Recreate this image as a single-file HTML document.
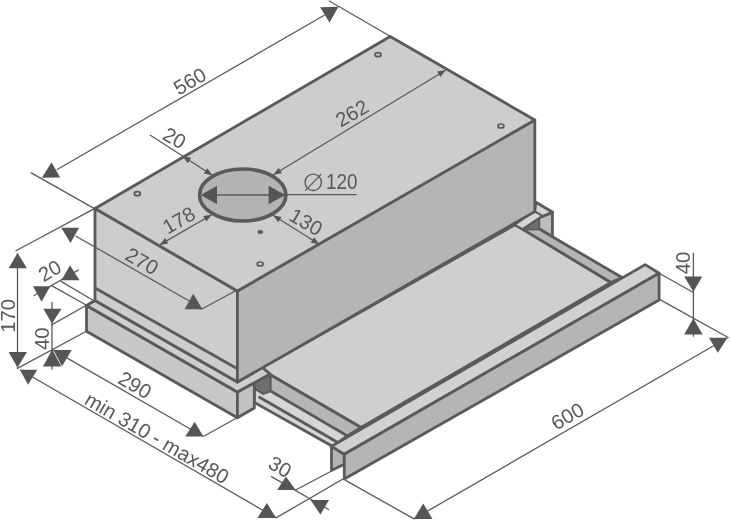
<!DOCTYPE html>
<html><head><meta charset="utf-8"><style>
html,body{margin:0;padding:0;background:#fff;}
svg{display:block;}
.t{filter:grayscale(1);}
text{font-family:"Liberation Sans",sans-serif;}
</style></head><body>
<svg class="t" width="730" height="521" viewBox="0 0 730 521">
<polygon points="262.5,367.6 514.8,224.8 522.5,229.1 611.0,282.5 361.0,427.5 262.5,370.3" fill="#cfcfcf" stroke="#5a5a5a" stroke-width="2.8" stroke-linejoin="round" />
<polygon points="535.9,202.2 552.7,212.3 541.7,217.1 534.5,211.3" fill="#d6d6d6" stroke="#5a5a5a" stroke-width="2.8" stroke-linejoin="round" />
<polygon points="538.8,218.0 552.4,212.5 552.4,236.8 538.8,228.6" fill="#bcbcbc" stroke="#5a5a5a" stroke-width="2.8" stroke-linejoin="round" />
<polygon points="522.5,229.1 538.8,228.6 552.4,236.8 622.0,277.5 611.0,282.5" fill="#b6b6b6" stroke="#5a5a5a" stroke-width="2.8" stroke-linejoin="round" />
<polygon points="526.0,228.5 539.0,218.3 539.0,229.2 531.0,229.8" fill="#6e6e6e" stroke="#5a5a5a" stroke-width="1.0" stroke-linejoin="round" />
<polygon points="514.8,224.8 534.5,211.3 542.5,215.8 522.5,229.1" fill="#d6d6d6" stroke="#5a5a5a" stroke-width="2.0" stroke-linejoin="round" />
<polygon points="270.2,374.7 361.0,427.5 347.2,435.9 270.2,390.9" fill="#b6b6b6" stroke="#5a5a5a" stroke-width="2.8" stroke-linejoin="round" />
<polygon points="254.3,388.0 263.4,393.5 270.2,390.9 347.2,435.9 332.8,446.5 254.3,402.4" fill="#d6d6d6" stroke="#5a5a5a" stroke-width="2.8" stroke-linejoin="round" />
<line x1="258.6" y1="396.7" x2="337.0" y2="442.0" stroke="#5a5a5a" stroke-width="2.8" stroke-linecap="butt"/>
<polygon points="254.0,383.5 270.2,374.1 270.2,390.9 263.4,393.3 254.3,388.0" fill="#6e6e6e" stroke="#5a5a5a" stroke-width="1.2" stroke-linejoin="round" />
<polygon points="86.5,305.5 237.4,392.0 237.4,417.8 86.5,331.2" fill="#c8c8c8" stroke="#5a5a5a" stroke-width="2.8" stroke-linejoin="round" />
<polygon points="237.4,392.0 254.3,382.8 254.3,408.0 237.4,417.8" fill="#c2c2c2" stroke="#5a5a5a" stroke-width="2.8" stroke-linejoin="round" />
<polygon points="86.5,305.5 95.0,300.5 237.4,382.0 262.5,367.6 270.2,374.1 254.3,382.8 237.4,392.0" fill="#cecece" stroke="#5a5a5a" stroke-width="2.8" stroke-linejoin="round" />
<polygon points="95.0,208.5 237.4,291.0 237.4,382.0 95.0,300.5" fill="#cdcdcd" stroke="#5a5a5a" stroke-width="2.8" stroke-linejoin="round" />
<polygon points="237.4,291.0 534.8,120.0 534.8,211.6 237.4,382.0" fill="#b5b5b5" stroke="#5a5a5a" stroke-width="2.8" stroke-linejoin="round" />
<polygon points="95.0,208.5 390.2,36.5 534.8,120.0 237.4,291.0" fill="#cdcdcd" stroke="#5a5a5a" stroke-width="2.8" stroke-linejoin="round" />
<line x1="95.0" y1="288.0" x2="237.4" y2="368.8" stroke="#5a5a5a" stroke-width="2.8" stroke-linecap="butt"/>
<polygon points="331.5,446.4 344.3,454.2 344.3,464.2 331.5,470.3" fill="#b5b5b5" stroke="#5a5a5a" stroke-width="2.8" stroke-linejoin="round" />
<polygon points="331.5,446.4 645.2,264.6 659.1,273.2 344.3,454.2" fill="#d1d1d1" stroke="#5a5a5a" stroke-width="2.8" stroke-linejoin="round" />
<polygon points="344.3,454.2 659.1,273.2 659.1,300.0 344.3,479.0" fill="#b5b5b5" stroke="#5a5a5a" stroke-width="2.8" stroke-linejoin="round" />
<ellipse cx="242.7" cy="195" rx="43.2" ry="26.0" fill="#b3b3b3" stroke="#5a5a5a" stroke-width="3.6"/>
<line x1="204.0" y1="195.0" x2="283.0" y2="195.0" stroke="#5a5a5a" stroke-width="1.6" stroke-linecap="butt"/>
<polygon points="200.8,195.0 217.0,185.7 217.0,204.3" fill="#555555"/>
<polygon points="285.3,195.0 268.6,185.7 268.6,204.3" fill="#555555"/>
<line x1="286.0" y1="194.6" x2="356.6" y2="194.6" stroke="#5a5a5a" stroke-width="1.2" stroke-linecap="butt"/>
<circle cx="313.2" cy="182.3" r="8.2" fill="none" stroke="#585858" stroke-width="1.3"/>
<line x1="305.3" y1="190.6" x2="321.3" y2="174.1" stroke="#585858" stroke-width="1.2" stroke-linecap="butt"/>
<text x="341.8" y="182.2" transform="rotate(0 341.8 182.2)" font-size="21.5" fill="#585858" text-anchor="middle" dominant-baseline="central" textLength="31.5" lengthAdjust="spacingAndGlyphs">120</text>
<ellipse cx="137.3" cy="193.7" rx="3.0" ry="2.0" fill="none" stroke="#5a5a5a" stroke-width="1.7"/>
<ellipse cx="378" cy="54.7" rx="3.0" ry="2.0" fill="none" stroke="#5a5a5a" stroke-width="1.7"/>
<ellipse cx="500.9" cy="126" rx="3.0" ry="2.0" fill="none" stroke="#5a5a5a" stroke-width="1.7"/>
<ellipse cx="260.2" cy="264" rx="3.0" ry="2.0" fill="none" stroke="#5a5a5a" stroke-width="1.7"/>
<ellipse cx="260.4" cy="232" rx="2.6" ry="1.8" fill="#5a5a5a" stroke="#5a5a5a" stroke-width="0.8"/>
<line x1="30.8" y1="172.6" x2="94.4" y2="208.6" stroke="#5a5a5a" stroke-width="1.3" stroke-linecap="butt"/>
<line x1="328.9" y1="0.8" x2="390.2" y2="36.2" stroke="#5a5a5a" stroke-width="1.3" stroke-linecap="butt"/>
<line x1="56.7" y1="169.7" x2="324.7" y2="15.0" stroke="#5a5a5a" stroke-width="1.3" stroke-linecap="butt"/>
<polygon points="51.5,162.2 41.9,177.8 60.2,177.5" fill="#555555"/>
<polygon points="320.1,7.2 338.5,6.8 329.5,22.6" fill="#555555"/>
<text x="189.8" y="81.2" transform="rotate(-30 189.8 81.2)" font-size="20.3" fill="#585858" text-anchor="middle" dominant-baseline="central">560</text>
<line x1="94.4" y1="208.6" x2="15.5" y2="251.0" stroke="#5a5a5a" stroke-width="1.3" stroke-linecap="butt"/>
<line x1="236.6" y1="290.3" x2="201.4" y2="309.3" stroke="#5a5a5a" stroke-width="1.3" stroke-linecap="butt"/>
<line x1="75.6" y1="236.0" x2="189.7" y2="301.2" stroke="#5a5a5a" stroke-width="1.3" stroke-linecap="butt"/>
<polygon points="61.2,227.8 79.1,227.8 70.5,243.0" fill="#555555"/>
<polygon points="193.2,293.7 184.6,309.3 202.5,309.3" fill="#555555"/>
<text x="142.0" y="261.2" transform="rotate(30 142.0 261.2)" font-size="20.3" fill="#585858" text-anchor="middle" dominant-baseline="central">270</text>
<line x1="17.5" y1="253.0" x2="17.5" y2="367.4" stroke="#5a5a5a" stroke-width="1.3" stroke-linecap="butt"/>
<polygon points="17.5,253.0 8.6,268.3 27.0,268.3" fill="#555555"/>
<polygon points="8.6,352.0 27.0,352.0 17.5,367.4" fill="#555555"/>
<text x="8.4" y="315.8" transform="rotate(-90 8.4 315.8)" font-size="20.3" fill="#585858" text-anchor="middle" dominant-baseline="central">170</text>
<line x1="16.9" y1="368.6" x2="86.5" y2="331.2" stroke="#5a5a5a" stroke-width="1.3" stroke-linecap="butt"/>
<line x1="33.8" y1="295.8" x2="78.7" y2="269.9" stroke="#5a5a5a" stroke-width="1.3" stroke-linecap="butt"/>
<polygon points="33.0,286.3 50.2,286.3 41.6,301.8" fill="#555555"/>
<polygon points="70.0,265.2 61.5,280.2 79.6,280.2" fill="#555555"/>
<line x1="60.6" y1="281.1" x2="94.3" y2="301.0" stroke="#5a5a5a" stroke-width="1.3" stroke-linecap="butt"/>
<line x1="51.1" y1="285.4" x2="86.5" y2="305.3" stroke="#5a5a5a" stroke-width="1.3" stroke-linecap="butt"/>
<text x="49.8" y="270.7" transform="rotate(-30 49.8 270.7)" font-size="20.3" fill="#585858" text-anchor="middle" dominant-baseline="central">20</text>
<line x1="52.0" y1="302.0" x2="52.0" y2="369.6" stroke="#5a5a5a" stroke-width="1.3" stroke-linecap="butt"/>
<polygon points="43.3,308.7 61.5,308.7 52.0,323.4" fill="#555555"/>
<polygon points="52.2,349.6 43.0,366.6 61.4,366.6" fill="#555555"/>
<line x1="51.1" y1="325.1" x2="86.5" y2="305.3" stroke="#5a5a5a" stroke-width="1.3" stroke-linecap="butt"/>
<text x="41.7" y="338.8" transform="rotate(-90 41.7 338.8)" font-size="20.3" fill="#585858" text-anchor="middle" dominant-baseline="central">40</text>
<polygon points="53.4,350.1 71.8,350.1 62.0,366.2" fill="#555555"/>
<line x1="53.4" y1="350.1" x2="203.3" y2="436.5" stroke="#5a5a5a" stroke-width="1.3" stroke-linecap="butt"/>
<polygon points="194.7,421.7 185.3,436.5 203.3,436.5" fill="#555555"/>
<line x1="203.3" y1="436.5" x2="237.1" y2="417.8" stroke="#5a5a5a" stroke-width="1.3" stroke-linecap="butt"/>
<text x="135.0" y="385.0" transform="rotate(30 135.0 385.0)" font-size="20.3" fill="#585858" text-anchor="middle" dominant-baseline="central">290</text>
<polygon points="20.0,369.7 37.3,369.7 28.0,384.7" fill="#555555"/>
<line x1="20.0" y1="369.7" x2="276.0" y2="517.9" stroke="#5a5a5a" stroke-width="1.3" stroke-linecap="butt"/>
<polygon points="266.9,503.0 257.5,517.9 276.0,517.9" fill="#555555"/>
<line x1="276.0" y1="517.9" x2="344.3" y2="478.3" stroke="#5a5a5a" stroke-width="1.3" stroke-linecap="butt"/>
<text x="157.0" y="438.0" transform="rotate(30 157.0 438.0)" font-size="20.3" fill="#585858" text-anchor="middle" dominant-baseline="central">min 310 - max480</text>
<line x1="271.0" y1="476.4" x2="329.0" y2="509.7" stroke="#5a5a5a" stroke-width="1.3" stroke-linecap="butt"/>
<polygon points="285.9,476.4 277.2,490.0 295.7,490.0" fill="#555555"/>
<polygon points="310.5,499.9 329.0,499.9 320.4,514.6" fill="#555555"/>
<line x1="295.7" y1="490.0" x2="344.3" y2="464.2" stroke="#5a5a5a" stroke-width="1.3" stroke-linecap="butt"/>
<text x="279.9" y="466.9" transform="rotate(30 279.9 466.9)" font-size="20.3" fill="#585858" text-anchor="middle" dominant-baseline="central">30</text>
<line x1="693.4" y1="252.7" x2="693.4" y2="336.7" stroke="#5a5a5a" stroke-width="1.3" stroke-linecap="butt"/>
<polygon points="684.2,276.4 702.2,276.4 693.4,291.8" fill="#555555"/>
<polygon points="693.4,318.3 684.2,334.4 702.6,334.4" fill="#555555"/>
<line x1="659.1" y1="273.2" x2="693.4" y2="292.5" stroke="#5a5a5a" stroke-width="1.3" stroke-linecap="butt"/>
<line x1="659.1" y1="299.1" x2="728.6" y2="337.8" stroke="#5a5a5a" stroke-width="1.3" stroke-linecap="butt"/>
<text x="682.6" y="263.0" transform="rotate(-90 682.6 263.0)" font-size="20.3" fill="#585858" text-anchor="middle" dominant-baseline="central">40</text>
<polygon points="709.0,337.8 727.5,337.8 717.8,352.8" fill="#555555"/>
<line x1="414.0" y1="518.9" x2="727.5" y2="337.8" stroke="#5a5a5a" stroke-width="1.3" stroke-linecap="butt"/>
<polygon points="423.2,503.4 414.0,518.9 432.5,518.9" fill="#555555"/>
<line x1="345.2" y1="480.1" x2="414.0" y2="518.9" stroke="#5a5a5a" stroke-width="1.3" stroke-linecap="butt"/>
<text x="567.5" y="416.2" transform="rotate(-30 567.5 416.2)" font-size="20.3" fill="#585858" text-anchor="middle" dominant-baseline="central">600</text>
<line x1="150.0" y1="135.0" x2="212.3" y2="175.2" stroke="#5a5a5a" stroke-width="1.3" stroke-linecap="butt"/>
<polygon points="182.7,156.2 191.2,157.8 187.7,163.2" fill="#555555"/>
<polygon points="212.3,175.2 203.8,173.6 207.3,168.2" fill="#555555"/>
<text x="174.5" y="138.0" transform="rotate(30 174.5 138.0)" font-size="20.3" fill="#585858" text-anchor="middle" dominant-baseline="central">20</text>
<line x1="273.4" y1="174.7" x2="445.6" y2="70.2" stroke="#5a5a5a" stroke-width="1.3" stroke-linecap="butt"/>
<polygon points="273.4,174.7 278.6,167.8 281.9,173.3" fill="#555555"/>
<polygon points="445.6,70.2 440.4,77.1 437.1,71.6" fill="#555555"/>
<text x="352.0" y="113.3" transform="rotate(-30 352.0 113.3)" font-size="20.3" fill="#585858" text-anchor="middle" dominant-baseline="central">262</text>
<line x1="159.7" y1="244.9" x2="211.7" y2="214.7" stroke="#5a5a5a" stroke-width="1.3" stroke-linecap="butt"/>
<polygon points="159.7,244.9 165.0,238.1 168.2,243.6" fill="#555555"/>
<polygon points="211.7,214.7 206.4,221.5 203.2,216.0" fill="#555555"/>
<text x="178.8" y="220.3" transform="rotate(-30 178.8 220.3)" font-size="20.3" fill="#585858" text-anchor="middle" dominant-baseline="central">178</text>
<line x1="273.1" y1="215.3" x2="319.2" y2="244.3" stroke="#5a5a5a" stroke-width="1.3" stroke-linecap="butt"/>
<polygon points="273.1,215.3 281.6,216.9 278.2,222.3" fill="#555555"/>
<polygon points="319.2,244.3 310.7,242.7 314.1,237.3" fill="#555555"/>
<text x="306.0" y="222.0" transform="rotate(30 306.0 222.0)" font-size="20.3" fill="#585858" text-anchor="middle" dominant-baseline="central">130</text>
</svg>
</body></html>
